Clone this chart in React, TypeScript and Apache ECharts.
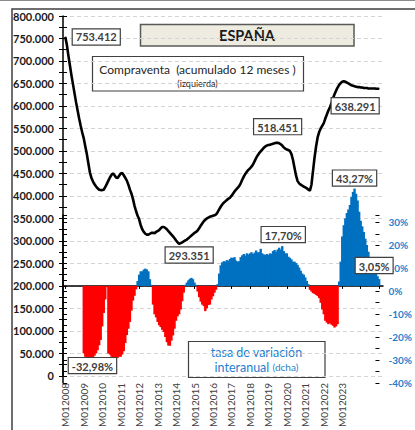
import React, { useEffect, useRef } from 'react';
import * as echarts from 'echarts';

// ---------- DATA ----------
// Monthly categories (Dec 2007 – Mar 2025), named like the reference "MmmYYYY"
const FIRST_YEAR = 2007;
const FIRST_MONTH = 12;
const N_CATEGORIES = 208;
// Years whose January carries a visible label
const LABELLED_YEARS = [2008, 2009, 2010, 2011, 2012, 2013, 2014, 2015, 2016, 2017, 2018, 2019, 2020, 2021, 2022, 2023];

// Compraventa (acumulado 12 meses), thousands — Jan 2008 .. Jan 2025
const compraventa = [
  753.412, 736, 712, 690, 668, 648, 628, 608, 590, 572, 556, 541, // 2008
  528, 510, 493, 472, 452, 440, 432, 426, 421, 417, 414, 413, // 2009
  413, 414, 420, 427, 434, 441, 447, 450, 446, 441, 440, 445, // 2010
  450, 451, 446, 440, 434, 425, 414, 405, 393, 378, 366, 356, // 2011
  348, 335, 326, 320, 316, 314, 314, 316, 318, 318, 317, 320, // 2012
  322, 324, 328, 331, 331, 329, 326, 322, 318, 314, 310, 306, // 2013
  301, 297, 293.351, 295, 297, 299, 301, 303, 306, 309, 312, 315, // 2014
  318, 320, 323, 328, 334, 339, 344, 347, 350, 352, 354, 355, // 2015
  356, 357, 359, 364, 370, 376, 381, 385, 388, 391, 394, 396, // 2016
  400, 405, 410, 414, 418, 422, 428, 436, 443, 449, 454, 458, // 2017
  461, 465, 470, 477, 484, 490, 495, 499, 503, 507, 510, 512, // 2018
  513, 514, 515, 516, 517, 518, 518.451, 517, 515, 512, 508, 505, // 2019
  503, 502, 500, 493, 480, 462, 445, 433, 428, 425, 423, 421, // 2020
  419, 417, 414, 412, 425, 455, 485, 510, 530, 542, 550, 556, // 2021
  562, 572, 581, 590, 597, 606, 617, 626, 634, 641, 647, 651, // 2022
  654, 655, 654, 652, 650, 648, 646, 645, 644, 643, 642, 642, // 2023
  641, 641, 640, 640, 640, 639, 639, 639, 639, 638.8, 638.5, 638.4, // 2024
  638.291, // 2025
];
const COMPRAVENTA_START = 'M012008';

// Tasa de variación interanual (%) — Jan 2009 .. Jan 2025
const tasaInteranual = [
  -30, -31.5, -31.8, -32.0, -32.5, -32.98, -32.2, -31.0, -30.0, -28.6, -26.4, -24.0, // 2009
  -18, -12, -6, -0.5, -30, -30.5, -31.5, -32.2, -32.5, -32.2, -32.0, -31.5, // 2010
  -31.5, -30.5, -29, -25.4, -21.8, -19, -16, -11, -6.5, -4.4, -1.5, 2.2, // 2011
  5, 6.5, 6.5, 7.3, 7.7, 7.3, 6.5, 3, 0.5, -8.3, -12.6, -14, // 2012
  -16, -17.5, -18.3, -19.5, -20.5, -22.7, -25, -26.5, -26.6, -24.3, -22, -19, // 2013
  -15.5, -13.5, -12.6, -10.5, -6.8, -3, 0.5, 1.5, 2.5, 3.2, 3.6, 3, // 2014
  1.5, 0.5, -2.5, -5, -7, -8.3, -9, -11.2, -10, -8.5, -8.3, -6, // 2015
  -4.6, -3, -1.7, 0.8, 5.5, 9.2, 10.5, 11.0, 10.8, 11.5, 11.2, 12.0, // 2016
  12.6, 12.4, 12.8, 11.3, 10.8, 11.0, 12.8, 13.6, 14.2, 13.5, 14.5, 14.0, // 2017
  14.5, 15.0, 14.2, 14.8, 15.7, 14.9, 15.0, 16.5, 14.5, 14.0, 13.8, 14.2, // 2018
  13.8, 14.5, 14.3, 15.5, 16.0, 15.2, 16.2, 17.0, 16.2, 17.7, 15.5, 14.5, // 2019
  14.5, 13.0, 12.5, 11.8, 10.8, 10.8, 10.2, 9.4, 8.2, 6.8, 5.5, 5.0, // 2020
  3.8, 2.2, 0.8, -1.7, -2.5, -3.2, -3.5, -4, -4.5, -5.4, -7.5, -10.5, // 2021
  -12.6, -15.5, -16.3, -17, -16.5, -17.2, -17.7, -18.5, -18, -17, 2, 10.8, // 2022
  22, 27, 30, 32.4, 34, 36, 39.5, 41.8, 43.27, 41, 38, 33, // 2023
  29, 26.5, 24, 21, 18.2, 15.2, 12.3, 9.4, 8, 7.2, 5.8, 4.3, // 2024
  3.05, // 2025
];
const TASA_START = 'M012009';

// Left-axis ticks (thousands) and right-axis ticks (%)
const LEFT_MIN = 0;
const LEFT_MAX = 800;
const LEFT_STEP = 50;
const RIGHT_MIN = -40;
const RIGHT_MAX = 120;
const RIGHT_LABEL_MAX = 33.24;
const RIGHT_STEP = 10;

// Highlighted points
const LINE_LABELLED = ['M012008', 'M032014', 'M072019', 'M012025'];
const BAR_LABELLED = ['M062009', 'M102019', 'M092023', 'M012025'];

// ---------- BUILD ----------
const categories: string[] = [];
for (let k = 0; k < N_CATEGORIES; k++) {
  const m0 = FIRST_MONTH - 1 + k;
  const y = FIRST_YEAR + Math.floor(m0 / 12);
  const m = (m0 % 12) + 1;
  categories.push('M' + String(m).padStart(2, '0') + y);
}
const labelledCats = new Set(LABELLED_YEARS.map((y) => 'M01' + y));

const FONT = 'Lato, "Liberation Sans", sans-serif';
const BLUE = '#0070C0';
const BLUE_TEXT = '#1f7fcf';
const RED = '#FF0000';

const boxLabel = {
  show: true,
  fontFamily: FONT,
  fontSize: 11,
  fontWeight: 'bold',
  color: '#404040',
  backgroundColor: '#ffffff',
  borderColor: '#404040',
  borderWidth: 1.2,
  padding: [2, 3, 1, 3],
  lineHeight: 12,
};

const lineLabelStyle: Record<string, any> = {
  M012008: { position: 'right', distance: 7 },
  M032014: { position: 'bottom', distance: 3, offset: [10, 0] },
  M072019: { position: 'top', distance: 8 },
  M012025: { position: 'bottom', distance: 9, offset: [-24, 0] },
};
const barLabelStyle: Record<string, any> = {
  M062009: { position: 'bottom', distance: 0, offset: [1, -2] },
  M102019: { position: 'top', distance: 4, offset: [1, 0] },
  M092023: { position: 'top', distance: 3 },
  M012025: { position: 'top', distance: 6, offset: [-5, 0] },
};

const fmtThousands = (v: number) => v.toFixed(3);
const fmtPct = (v: number) => v.toFixed(2).replace('.', ',') + '%';

function buildOption() {
  const lineStart = categories.indexOf(COMPRAVENTA_START);
  const barStart = categories.indexOf(TASA_START);

  const lineData: any[] = categories.map((c, i) => {
    const j = i - lineStart;
    if (j < 0 || j >= compraventa.length) return null;
    const v = compraventa[j];
    if (LINE_LABELLED.includes(c)) {
      return {
        value: v,
        label: { ...boxLabel, ...lineLabelStyle[c], formatter: () => fmtThousands(v) },
      };
    }
    return v;
  });

  const barItem = (c: string, v: number) => {
    if (BAR_LABELLED.includes(c)) {
      return { value: v, label: { ...boxLabel, ...barLabelStyle[c], formatter: () => fmtPct(v) } };
    }
    return v;
  };
  const posData: any[] = [];
  const negData: any[] = [];
  categories.forEach((c, i) => {
    const j = i - barStart;
    if (j < 0 || j >= tasaInteranual.length) {
      posData.push(null);
      negData.push(null);
      return;
    }
    const v = tasaInteranual[j];
    if (v >= 0) {
      posData.push(barItem(c, v));
      negData.push(null);
    } else {
      posData.push(null);
      negData.push(barItem(c, v));
    }
  });

  return {
    animation: false,
    backgroundColor: '#ffffff',
    textStyle: { fontFamily: FONT },
    grid: [
      { left: 63, right: 32, top: 16, bottom: 47, containLabel: false },
      { left: 63, right: 32, top: 215, bottom: 47, containLabel: false },
    ],
    xAxis: [
      {
        type: 'category',
        gridIndex: 0,
        data: categories,
        boundaryGap: true,
        position: 'bottom',
        axisLine: { show: false, onZero: false },
        axisTick: { show: false },
        splitLine: { show: false },
        axisLabel: {
          rotate: 90,
          margin: 7,
          fontFamily: FONT,
          fontSize: 10,
          color: '#404040',
          interval: (i: number) => labelledCats.has(categories[i]),
        },
      },
      {
        type: 'category',
        gridIndex: 0,
        data: categories,
        boundaryGap: true,
        position: 'bottom',
        axisLine: { show: true, onZero: true, onZeroAxisIndex: 1, lineStyle: { color: '#000', width: 1.5 } },
        axisTick: {
          show: true,
          alignWithLabel: true,
          length: 3,
          interval: (i: number) => categories[i].startsWith('M01'),
          lineStyle: { color: '#000', width: 1 },
        },
        axisLabel: { show: false },
        splitLine: { show: false },
      },
      { type: 'value', gridIndex: 1, show: false, min: 0, max: 1 },
    ],
    yAxis: [
      {
        type: 'value',
        gridIndex: 0,
        position: 'left',
        min: LEFT_MIN,
        max: LEFT_MAX,
        interval: LEFT_STEP,
        axisLine: { show: true, lineStyle: { color: '#000', width: 1.5 } },
        axisTick: { show: true, length: 4, lineStyle: { color: '#000' } },
        minorTick: { show: true, splitNumber: 2, length: 4, lineStyle: { color: '#000' } },
        splitLine: { show: true, lineStyle: { color: '#d4d4d4', type: [4, 3], width: 1 } },
        axisLabel: {
          margin: 9,
          fontFamily: FONT,
          fontSize: 11,
          fontWeight: 'bold',
          color: '#1a1a1a',
          formatter: (v: number) => (v === 0 ? '0' : v.toFixed(3)),
        },
      },
      {
        type: 'value',
        gridIndex: 0,
        position: 'right',
        min: RIGHT_MIN,
        max: RIGHT_MAX,
        interval: RIGHT_STEP,
        show: false,
        splitLine: { show: false },
      },
      {
        type: 'value',
        gridIndex: 0,
        position: 'left',
        min: LEFT_MIN,
        max: LEFT_MAX,
        interval: LEFT_STEP,
        axisLine: { show: false },
        axisTick: { show: true, inside: true, length: 4, lineStyle: { color: '#000' } },
        minorTick: { show: true, splitNumber: 2, length: 4, lineStyle: { color: '#000' } },
        splitLine: { show: false },
        axisLabel: { show: false },
      },
      {
        type: 'value',
        gridIndex: 1,
        position: 'right',
        min: RIGHT_MIN,
        max: RIGHT_LABEL_MAX,
        interval: RIGHT_STEP,
        axisLine: { show: true, lineStyle: { color: '#000', width: 1.5 } },
        axisTick: { show: true, length: 4, lineStyle: { color: '#000' } },
        minorTick: { show: true, splitNumber: 2, length: 4, lineStyle: { color: '#000' } },
        splitLine: { show: false },
        axisLabel: {
          margin: 9,
          fontFamily: FONT,
          fontSize: 10,
          fontWeight: 'bold',
          color: BLUE_TEXT,
          showMaxLabel: false,
          formatter: (v: number) => (v > 30 ? '' : Math.round(v) + '%'),
        },
      },
      {
        type: 'value',
        gridIndex: 1,
        position: 'right',
        min: RIGHT_MIN,
        max: RIGHT_LABEL_MAX,
        interval: RIGHT_STEP,
        axisLine: { show: false },
        axisTick: { show: true, inside: true, length: 4, lineStyle: { color: '#000' } },
        minorTick: { show: true, splitNumber: 2, length: 4, lineStyle: { color: '#000' } },
        splitLine: { show: false },
        axisLabel: { show: false },
      },
    ],
    series: [
      {
        name: 'tasa +',
        type: 'bar',
        xAxisIndex: 0,
        yAxisIndex: 1,
        data: posData,
        barWidth: 2.4,
        barGap: '-100%',
        itemStyle: { color: BLUE },
        z: 2,
      },
      {
        name: 'tasa -',
        type: 'bar',
        xAxisIndex: 0,
        yAxisIndex: 1,
        data: negData,
        barWidth: 2.4,
        barGap: '-100%',
        itemStyle: { color: RED },
        z: 2,
      },
      {
        name: 'Compraventa',
        type: 'line',
        xAxisIndex: 0,
        yAxisIndex: 0,
        data: lineData,
        symbol: 'circle',
        symbolSize: 1,
        showSymbol: true,
        showAllSymbol: true,
        itemStyle: { color: '#000' },
        lineStyle: { color: '#000', width: 2.6 },
        connectNulls: false,
        z: 5,
      },
    ],
    graphic: [
      { type: 'line', z: 100, shape: { x1: 0, y1: 0.5, x2: 415, y2: 0.5 }, style: { stroke: '#8a8a8a', lineWidth: 1 } },
      { type: 'rect', z: 100, shape: { x: 12, y: 9, width: 420, height: 440 }, style: { fill: 'none', stroke: '#404040', lineWidth: 1.5 } },
      {
        type: 'group',
        z: 100,
        children: [
          { type: 'rect', shape: { x: 140.5, y: 24.5, width: 213.5, height: 21.5 }, style: { fill: '#EEECE1', stroke: '#595959', lineWidth: 1.5 } },
          {
            type: 'text',
            x: 247,
            y: 35.5,
            style: { text: 'ESPAÑA', fontFamily: FONT, fontSize: 14.5, fontWeight: 'bold', fill: '#1a1a1a', align: 'center', verticalAlign: 'middle' },
          },
        ],
      },
      {
        type: 'group',
        z: 100,
        children: [
          { type: 'rect', shape: { x: 92.5, y: 56.5, width: 211, height: 34.5 }, style: { fill: '#ffffff', stroke: '#404040', lineWidth: 1.2 } },
          {
            type: 'text',
            x: 197.5,
            y: 69.5,
            style: { text: 'Compraventa  (acumulado 12 meses )', fontFamily: FONT, fontSize: 12, fill: '#262626', align: 'center', verticalAlign: 'middle' },
          },
          {
            type: 'text',
            x: 197.5,
            y: 83,
            style: { text: '(izquierda)', fontFamily: FONT, fontSize: 9, fill: '#262626', align: 'center', verticalAlign: 'middle' },
          },
        ],
      },
      {
        type: 'group',
        z: 100,
        children: [
          { type: 'rect', shape: { x: 188.5, y: 341.5, width: 136.5, height: 36 }, style: { fill: '#ffffff', stroke: '#404040', lineWidth: 1.2 } },
          {
            type: 'text',
            x: 256.5,
            y: 352.5,
            style: { text: 'tasa de variación', fontFamily: FONT, fontSize: 12.5, fill: BLUE_TEXT, align: 'center', verticalAlign: 'middle' },
          },
          {
            type: 'text',
            x: 256.5,
            y: 367,
            style: {
              text: '{a|interanual} {b|(dcha)}',
              align: 'center',
              verticalAlign: 'middle',
              rich: {
                a: { fontFamily: FONT, fontSize: 12.5, fill: BLUE_TEXT, color: BLUE_TEXT },
                b: { fontFamily: FONT, fontSize: 10, fill: BLUE_TEXT, color: BLUE_TEXT },
              },
            },
          },
        ],
      },
    ],
  };
}

export default function App() {
  const ref = useRef<HTMLDivElement>(null);
  useEffect(() => {
    if (!ref.current) return;
    const chart = echarts.init(ref.current, null, { renderer: 'svg' });
    chart.setOption(buildOption() as any);
    return () => chart.dispose();
  }, []);
  return (
    <div
      ref={ref}
      style={{ position: 'fixed', left: 0, top: 0, width: 415, height: 430, background: '#ffffff' }}
    />
  );
}
